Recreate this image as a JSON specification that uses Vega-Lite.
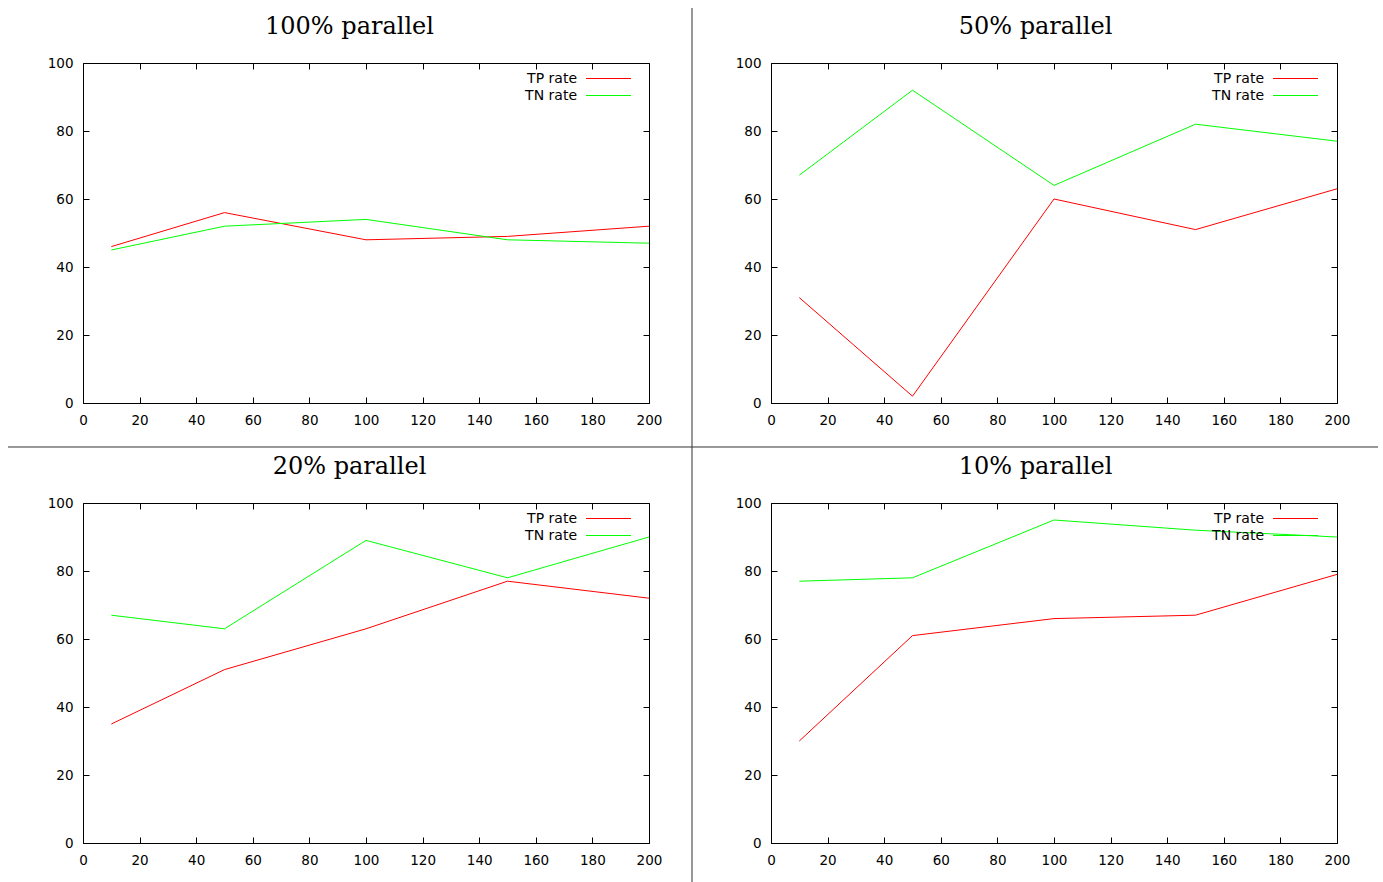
{
  "$schema": "https://vega.github.io/schema/vega-lite/v6.json",
  "background": "white",
  "padding": {"left": 7, "top": 6, "right": 5, "bottom": 0},
  "data": {"values": [
    {"panel": "100", "n": 10, "series": "TP rate", "rate": 46},
    {"panel": "100", "n": 50, "series": "TP rate", "rate": 56},
    {"panel": "100", "n": 100, "series": "TP rate", "rate": 48},
    {"panel": "100", "n": 150, "series": "TP rate", "rate": 49},
    {"panel": "100", "n": 200, "series": "TP rate", "rate": 52},
    {"panel": "100", "n": 10, "series": "TN rate", "rate": 45},
    {"panel": "100", "n": 50, "series": "TN rate", "rate": 52},
    {"panel": "100", "n": 100, "series": "TN rate", "rate": 54},
    {"panel": "100", "n": 150, "series": "TN rate", "rate": 48},
    {"panel": "100", "n": 200, "series": "TN rate", "rate": 47},
    {"panel": "50", "n": 10, "series": "TP rate", "rate": 31},
    {"panel": "50", "n": 50, "series": "TP rate", "rate": 2},
    {"panel": "50", "n": 100, "series": "TP rate", "rate": 60},
    {"panel": "50", "n": 150, "series": "TP rate", "rate": 51},
    {"panel": "50", "n": 200, "series": "TP rate", "rate": 63},
    {"panel": "50", "n": 10, "series": "TN rate", "rate": 67},
    {"panel": "50", "n": 50, "series": "TN rate", "rate": 92},
    {"panel": "50", "n": 100, "series": "TN rate", "rate": 64},
    {"panel": "50", "n": 150, "series": "TN rate", "rate": 82},
    {"panel": "50", "n": 200, "series": "TN rate", "rate": 77},
    {"panel": "20", "n": 10, "series": "TP rate", "rate": 35},
    {"panel": "20", "n": 50, "series": "TP rate", "rate": 51},
    {"panel": "20", "n": 100, "series": "TP rate", "rate": 63},
    {"panel": "20", "n": 150, "series": "TP rate", "rate": 77},
    {"panel": "20", "n": 200, "series": "TP rate", "rate": 72},
    {"panel": "20", "n": 10, "series": "TN rate", "rate": 67},
    {"panel": "20", "n": 50, "series": "TN rate", "rate": 63},
    {"panel": "20", "n": 100, "series": "TN rate", "rate": 89},
    {"panel": "20", "n": 150, "series": "TN rate", "rate": 78},
    {"panel": "20", "n": 200, "series": "TN rate", "rate": 90},
    {"panel": "10", "n": 10, "series": "TP rate", "rate": 30},
    {"panel": "10", "n": 50, "series": "TP rate", "rate": 61},
    {"panel": "10", "n": 100, "series": "TP rate", "rate": 66},
    {"panel": "10", "n": 150, "series": "TP rate", "rate": 67},
    {"panel": "10", "n": 200, "series": "TP rate", "rate": 79},
    {"panel": "10", "n": 10, "series": "TN rate", "rate": 77},
    {"panel": "10", "n": 50, "series": "TN rate", "rate": 78},
    {"panel": "10", "n": 100, "series": "TN rate", "rate": 95},
    {"panel": "10", "n": 150, "series": "TN rate", "rate": 92},
    {"panel": "10", "n": 200, "series": "TN rate", "rate": 90}
  ]},
  "columns": 2,
  "spacing": {"row": 100, "column": 122},
  "bounds": "flush",
  "resolve": {"scale": {"color": "independent"}},
  "concat": [
    {
      "width": 566, "height": 340,
      "resolve": {"axis": {"x": "independent", "y": "independent"}},
      "layer": [
        {
          "transform": [{"filter": "datum.panel === '100'"}],
          "mark": {"type": "line", "strokeWidth": 1},
          "encoding": {
            "x": {"field": "n", "type": "quantitative", "scale": {"domain": [0, 200], "nice": false, "zero": false},
                  "axis": {"orient": "bottom", "values": [0,20,40,60,80,100,120,140,160,180,200], "tickSize": -6, "labelPadding": 16, "domain": false, "grid": false, "title": null, "labelFlush": false, "labelOverlap": false}},
            "y": {"field": "rate", "type": "quantitative", "scale": {"domain": [0, 100], "nice": false, "zero": false},
                  "axis": {"orient": "left", "values": [0,20,40,60,80,100], "tickSize": -6, "labelPadding": 16, "domain": false, "grid": false, "title": null, "labelOverlap": false}},
            "color": {"field": "series", "type": "nominal", "scale": {"domain": ["TP rate", "TN rate"], "range": ["#ff0000", "#00ff00"]},
                      "legend": {"orient": "none", "legendX": 517.5, "legendY": 7.5, "title": null, "symbolType": "M-3,0L3,0", "symbolSize": 225, "symbolStrokeWidth": 1, "labelAlign": "right", "labelOffset": -39.5, "rowPadding": 2, "padding": 0, "symbolOffset": 0}}
          }
        },
        {
          "data": {"values": [{}]},
          "mark": {"type": "rule", "color": "#333333", "strokeWidth": 1},
          "encoding": {
            "x": {"datum": 215.19, "type": "quantitative", "scale": {"domain": [0, 200], "nice": false, "zero": false},
                  "axis": {"orient": "top", "values": [0,20,40,60,80,100,120,140,160,180,200], "tickSize": -6, "labels": false, "domain": false, "grid": false, "title": "100% parallel", "titleX": 266, "titleY": -29.5, "titleAlign": "center", "titleBaseline": "alphabetic"}},
            "y": {"datum": 116.18, "type": "quantitative", "scale": {"domain": [0, 100], "nice": false, "zero": false},
                  "axis": {"orient": "right", "values": [0,20,40,60,80,100], "tickSize": -6, "labels": false, "domain": false, "grid": false, "title": null}},
            "y2": {"datum": -12.94}
          }
        },
        {
          "data": {"values": [{}]},
          "mark": {"type": "rule", "color": "#333333", "strokeWidth": 1},
          "encoding": {
            "x": {"datum": -26.5, "type": "quantitative", "scale": {"domain": [0, 200], "nice": false, "zero": false}, "axis": null},
            "x2": {"datum": 215.19},
            "y": {"datum": -12.94, "type": "quantitative", "scale": {"domain": [0, 100], "nice": false, "zero": false}, "axis": null}
          }
        }
      ]
    },
    {
      "width": 566, "height": 340,
      "resolve": {"axis": {"x": "independent", "y": "independent"}},
      "layer": [
        {
          "transform": [{"filter": "datum.panel === '50'"}],
          "mark": {"type": "line", "strokeWidth": 1},
          "encoding": {
            "x": {"field": "n", "type": "quantitative", "scale": {"domain": [0, 200], "nice": false, "zero": false},
                  "axis": {"orient": "bottom", "values": [0,20,40,60,80,100,120,140,160,180,200], "tickSize": -6, "labelPadding": 16, "domain": false, "grid": false, "title": null, "labelFlush": false, "labelOverlap": false}},
            "y": {"field": "rate", "type": "quantitative", "scale": {"domain": [0, 100], "nice": false, "zero": false},
                  "axis": {"orient": "left", "values": [0,20,40,60,80,100], "tickSize": -6, "labelPadding": 16, "domain": false, "grid": false, "title": null, "labelOverlap": false}},
            "color": {"field": "series", "type": "nominal", "scale": {"domain": ["TP rate", "TN rate"], "range": ["#ff0000", "#00ff00"]},
                      "legend": {"orient": "none", "legendX": 516.5, "legendY": 7.5, "title": null, "symbolType": "M-3,0L3,0", "symbolSize": 225, "symbolStrokeWidth": 1, "labelAlign": "right", "labelOffset": -39.5, "rowPadding": 2, "padding": 0, "symbolOffset": 0}}
          }
        },
        {
          "data": {"values": [{}]},
          "mark": {"type": "rule", "color": "#333333", "strokeWidth": 1},
          "encoding": {
            "x": {"datum": -27.92, "type": "quantitative", "scale": {"domain": [0, 200], "nice": false, "zero": false},
                  "axis": {"orient": "top", "values": [0,20,40,60,80,100,120,140,160,180,200], "tickSize": -6, "labels": false, "domain": false, "grid": false, "title": "50% parallel", "titleX": 264, "titleY": -29.5, "titleAlign": "center", "titleBaseline": "alphabetic"}},
            "x2": {"datum": 214.5},
            "y": {"datum": -12.94, "type": "quantitative", "scale": {"domain": [0, 100], "nice": false, "zero": false},
                  "axis": {"orient": "right", "values": [0,20,40,60,80,100], "tickSize": -6, "labels": false, "domain": false, "grid": false, "title": null}}
          }
        }
      ]
    },
    {
      "width": 566, "height": 340,
      "resolve": {"axis": {"x": "independent", "y": "independent"}},
      "layer": [
        {
          "transform": [{"filter": "datum.panel === '20'"}],
          "mark": {"type": "line", "strokeWidth": 1},
          "encoding": {
            "x": {"field": "n", "type": "quantitative", "scale": {"domain": [0, 200], "nice": false, "zero": false},
                  "axis": {"orient": "bottom", "values": [0,20,40,60,80,100,120,140,160,180,200], "tickSize": -6, "labelPadding": 16, "domain": false, "grid": false, "title": null, "labelFlush": false, "labelOverlap": false}},
            "y": {"field": "rate", "type": "quantitative", "scale": {"domain": [0, 100], "nice": false, "zero": false},
                  "axis": {"orient": "left", "values": [0,20,40,60,80,100], "tickSize": -6, "labelPadding": 16, "domain": false, "grid": false, "title": null, "labelOverlap": false}},
            "color": {"field": "series", "type": "nominal", "scale": {"domain": ["TP rate", "TN rate"], "range": ["#ff0000", "#00ff00"]},
                      "legend": {"orient": "none", "legendX": 517.5, "legendY": 7.5, "title": null, "symbolType": "M-3,0L3,0", "symbolSize": 225, "symbolStrokeWidth": 1, "labelAlign": "right", "labelOffset": -39.5, "rowPadding": 2, "padding": 0, "symbolOffset": 0}}
          }
        },
        {
          "data": {"values": [{}]},
          "mark": {"type": "rule", "color": "#333333", "strokeWidth": 1},
          "encoding": {
            "x": {"datum": 215.19, "type": "quantitative", "scale": {"domain": [0, 200], "nice": false, "zero": false},
                  "axis": {"orient": "top", "values": [0,20,40,60,80,100,120,140,160,180,200], "tickSize": -6, "labels": false, "domain": false, "grid": false, "title": "20% parallel", "titleX": 266, "titleY": -29.5, "titleAlign": "center", "titleBaseline": "alphabetic"}},
            "y": {"datum": 116.47, "type": "quantitative", "scale": {"domain": [0, 100], "nice": false, "zero": false},
                  "axis": {"orient": "right", "values": [0,20,40,60,80,100], "tickSize": -6, "labels": false, "domain": false, "grid": false, "title": null}},
            "y2": {"datum": -11.5}
          }
        }
      ]
    },
    {
      "width": 566, "height": 340,
      "resolve": {"axis": {"x": "independent", "y": "independent"}},
      "layer": [
        {
          "transform": [{"filter": "datum.panel === '10'"}],
          "mark": {"type": "line", "strokeWidth": 1},
          "encoding": {
            "x": {"field": "n", "type": "quantitative", "scale": {"domain": [0, 200], "nice": false, "zero": false},
                  "axis": {"orient": "bottom", "values": [0,20,40,60,80,100,120,140,160,180,200], "tickSize": -6, "labelPadding": 16, "domain": false, "grid": false, "title": null, "labelFlush": false, "labelOverlap": false}},
            "y": {"field": "rate", "type": "quantitative", "scale": {"domain": [0, 100], "nice": false, "zero": false},
                  "axis": {"orient": "left", "values": [0,20,40,60,80,100], "tickSize": -6, "labelPadding": 16, "domain": false, "grid": false, "title": null, "labelOverlap": false}},
            "color": {"field": "series", "type": "nominal", "scale": {"domain": ["TP rate", "TN rate"], "range": ["#ff0000", "#00ff00"]},
                      "legend": {"orient": "none", "legendX": 516.5, "legendY": 7.5, "title": null, "symbolType": "M-3,0L3,0", "symbolSize": 225, "symbolStrokeWidth": 1, "labelAlign": "right", "labelOffset": -39.5, "rowPadding": 2, "padding": 0, "symbolOffset": 0}}
          }
        },
        {
          "data": {"values": [{}]},
          "mark": {"type": "rule", "color": "#333333", "strokeWidth": 1, "opacity": 0},
          "encoding": {
            "x": {"datum": 100, "type": "quantitative", "scale": {"domain": [0, 200], "nice": false, "zero": false},
                  "axis": {"orient": "top", "values": [0,20,40,60,80,100,120,140,160,180,200], "tickSize": -6, "labels": false, "domain": false, "grid": false, "title": "10% parallel", "titleX": 264, "titleY": -29.5, "titleAlign": "center", "titleBaseline": "alphabetic"}},
            "y": {"datum": 50, "type": "quantitative", "scale": {"domain": [0, 100], "nice": false, "zero": false},
                  "axis": {"orient": "right", "values": [0,20,40,60,80,100], "tickSize": -6, "labels": false, "domain": false, "grid": false, "title": null}}
          }
        }
      ]
    }
  ],
  "config": {
    "view": {"stroke": "#000000", "strokeWidth": 1},
    "axis": {"tickColor": "#000000", "tickWidth": 1, "labelColor": "#000000", "labelFont": "DejaVu Sans", "labelFontSize": 13.5,
             "titleFont": "DejaVu Serif", "titleFontSize": 24, "titleFontWeight": "normal", "titleColor": "#000000"},
    "legend": {"labelFont": "DejaVu Sans", "labelFontSize": 14, "labelColor": "#000000"}
  }
}
